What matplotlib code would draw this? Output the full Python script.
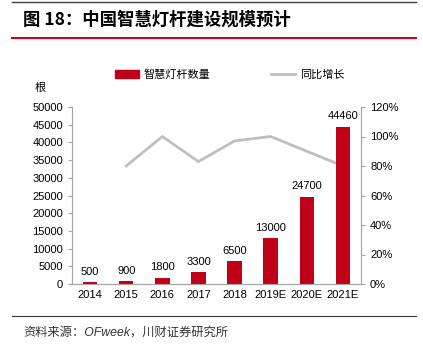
import matplotlib.pyplot as plt
from matplotlib.lines import Line2D
from matplotlib.patches import Patch

plt.rcParams['font.family'] = ['Liberation Sans', 'Noto Sans CJK SC', 'DejaVu Sans']

years = ["2014", "2015", "2016", "2017", "2018", "2019E", "2020E", "2021E"]
poles = [500, 900, 1800, 3300, 6500, 13000, 24700, 44460]
growth_years = years[1:]
growth = [0.80, 1.00, 0.83, 0.97, 1.00, 0.90, 0.80]

bar_color = "#C00018"
line_color = "#BFBFBF"
axis_color = "#A6A6A6"
cjk = ['Noto Sans CJK SC', 'DejaVu Sans']

fig = plt.figure(figsize=(4.23, 3.53), dpi=100)
ax = fig.add_axes([72 / 423, 69 / 353, 289 / 423, 177 / 353])
ax2 = ax.twinx()

x = list(range(len(years)))
ax.bar(x, poles, width=0.4, color=bar_color, zorder=2)
for xi, v in zip(x, poles):
    ax.text(xi, v + 1500, str(v), ha="center", va="bottom", fontsize=8)

gx = [years.index(y) for y in growth_years]
ax2.plot(gx, growth, color=line_color, lw=2, zorder=1)

ax.set_xlim(-0.5, len(years) - 0.5)
ax.set_ylim(0, 50000)
ax.set_yticks(range(0, 50001, 5000))
ax2.set_ylim(0, 1.2)
ax2.set_yticks([0, 0.2, 0.4, 0.6, 0.8, 1.0, 1.2])
ax2.set_yticklabels([f"{int(round(t * 100))}%" for t in ax2.get_yticks()])
ax.set_xticks(x)
ax.set_xticklabels(years)

for a in (ax, ax2):
    a.spines["top"].set_visible(False)
    for s in ("left", "right", "bottom"):
        a.spines[s].set_color(axis_color)
    a.tick_params(labelsize=8, color=axis_color, length=3)
ax.tick_params(axis="x", length=0, pad=4)
ax.set_zorder(ax2.get_zorder() + 1)
ax.patch.set_visible(False)

fig.text(40 / 423, 1 - 88 / 353, "根", fontsize=8, family=cjk, ha="center", va="center")

handles = [Patch(color=bar_color), Line2D([], [], color=line_color, lw=2)]
fig.legend(handles[:1], ["智慧灯杆数量"], loc="center left",
           bbox_to_anchor=(105 / 423, 1 - 75 / 353), frameon=False,
           prop={"family": cjk, "size": 8}, handlelength=2.2, handletextpad=0.4)
fig.legend(handles[1:], ["同比增长"], loc="center left",
           bbox_to_anchor=(261 / 423, 1 - 75 / 353), frameon=False,
           prop={"family": cjk, "size": 8}, handlelength=2.2, handletextpad=0.4)

# header / footer rules
fig.add_artist(Line2D([12 / 423, 416 / 423], [1 - 2 / 353] * 2, color="#404040", lw=1))
fig.add_artist(Line2D([12 / 423, 416 / 423], [1 - 38 / 353] * 2, color="#D0021B", lw=1.5))
fig.add_artist(Line2D([12 / 423, 416 / 423], [1 - 316 / 353] * 2, color="#333333", lw=0.8))

fig.text(23 / 423, 1 - 20 / 353, "图 18：中国智慧灯杆建设规模预计", fontsize=12.5,
         fontweight="bold", family=cjk, va="center")
fig.text(23 / 423, 1 - 333 / 353, "资料来源：OFweek，川财证券研究所", fontsize=8.8,
         style="italic", family=['Liberation Sans', 'Noto Sans CJK SC'], va="center", color="#333333")

fig.savefig("out.png", dpi=100)
